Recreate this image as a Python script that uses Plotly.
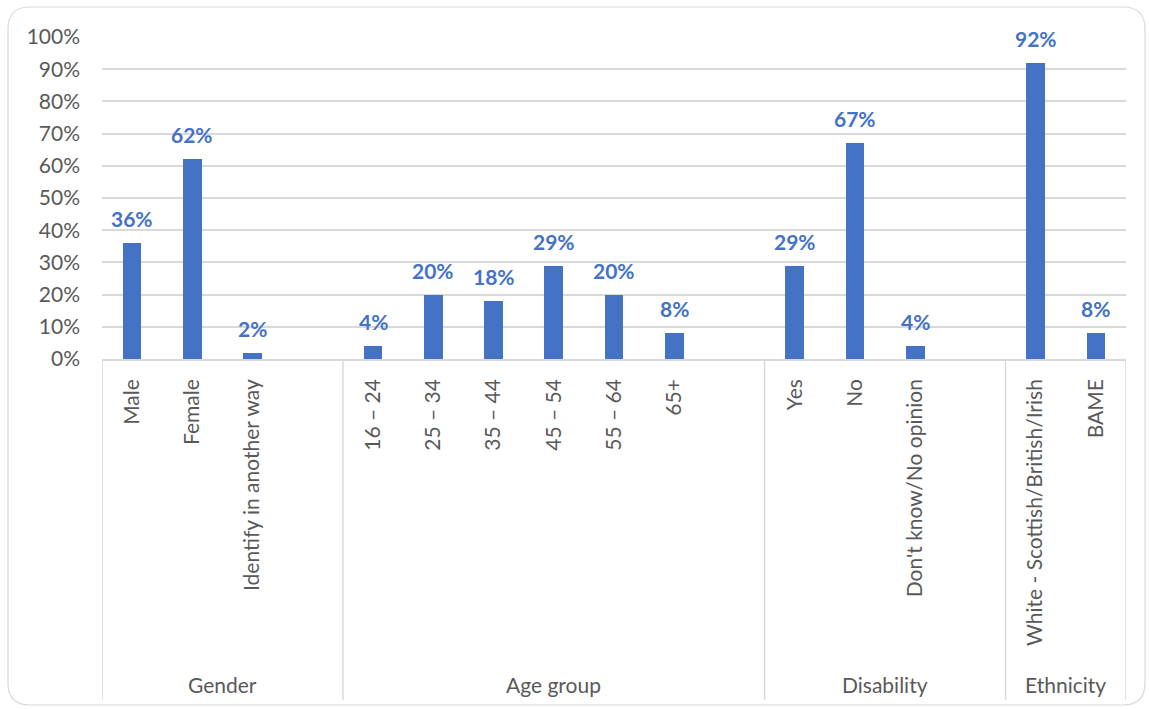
import plotly.graph_objects as go

# ---- data ----
group_names = ["Gender", "Age group", "Disability", "Ethnicity"]
gender_labels = ["Male", "Female", "Identify in another way"]
gender_values = [36, 62, 2]
age_labels = ["16 – 24", "25 – 34", "35 – 44", "45 – 54", "55 – 64", "65+"]
age_values = [4, 20, 18, 29, 20, 8]
disability_labels = ["Yes", "No", "Don't know/No opinion"]
disability_values = [29, 67, 4]
ethnicity_labels = ["White - Scottish/British/Irish", "BAME"]
ethnicity_values = [92, 8]
y_ticks = [0, 10, 20, 30, 40, 50, 60, 70, 80, 90, 100]

groups = [
    (gender_labels, gender_values),
    (age_labels, age_values),
    (disability_labels, disability_values),
    (ethnicity_labels, ethnicity_values),
]

BLUE = "#4472C4"
GREY_TXT = "#595959"
GRID = "#D9D9D9"
FONT = "Lato"

# build slot positions (one blank slot after every group but the last)
xs, ys, labels = [], [], []
bounds = []
pos = 0
for gi, (labs, vals) in enumerate(groups):
    start = pos
    for l, v in zip(labs, vals):
        xs.append(pos)
        ys.append(v)
        labels.append(l)
        pos += 1
    if gi < len(groups) - 1:
        pos += 1
    bounds.append((start - 0.5, pos - 0.5))
n_slots = pos

fig = go.Figure()
fig.add_trace(go.Bar(
    x=xs, y=ys, width=0.31, marker=dict(color=BLUE, line=dict(width=0)),
    hoverinfo="skip", showlegend=False,
))

annotations = []
for x, y in zip(xs, ys):
    annotations.append(dict(
        x=x, y=y, xref="x", yref="y", text=f"<b>{y}%</b>", showarrow=False,
        yanchor="bottom", yshift=10, font=dict(family=FONT, size=21, color=BLUE),
    ))

H = 322.0  # plot height in px
for name, (a, b) in zip(group_names, bounds):
    annotations.append(dict(
        x=(a + b) / 2, y=-(685 - 359) / H, xref="x", yref="paper", text=name,
        showarrow=False, yanchor="middle",
        font=dict(family=FONT, size=21, color=GREY_TXT),
    ))

shapes = []
sep_x = sorted(set([b[0] for b in bounds] + [bounds[-1][1]]))
for sx in sep_x:
    shapes.append(dict(type="line", xref="x", yref="paper", x0=sx, x1=sx,
                       y0=0, y1=-(700 - 359) / H, line=dict(color=GRID, width=1.5)))

# rounded chart border
W = 1024.0
def px_x(p):
    return (p - 102) / W
def px_y(p):
    return (359 - p) / H
L, R, T, B, r = 8, 1145, 7, 705, 22
path = (
    f"M {px_x(L + r)} {px_y(T)} L {px_x(R - r)} {px_y(T)} "
    f"Q {px_x(R)} {px_y(T)} {px_x(R)} {px_y(T + r)} "
    f"L {px_x(R)} {px_y(B - r)} Q {px_x(R)} {px_y(B)} {px_x(R - r)} {px_y(B)} "
    f"L {px_x(L + r)} {px_y(B)} Q {px_x(L)} {px_y(B)} {px_x(L)} {px_y(B - r)} "
    f"L {px_x(L)} {px_y(T + r)} Q {px_x(L)} {px_y(T)} {px_x(L + r)} {px_y(T)} Z"
)
shapes.append(dict(type="path", xref="paper", yref="paper", path=path,
                   line=dict(color=GRID, width=1.2), layer="below"))

fig.update_layout(
    width=1149, height=709,
    margin=dict(l=102, r=23, t=37, b=350, autoexpand=False),
    paper_bgcolor="white", plot_bgcolor="white",
    font=dict(family=FONT, color=GREY_TXT),
    bargap=0,
    annotations=annotations,
    shapes=shapes,
    xaxis=dict(
        range=[-0.5, n_slots - 0.5], tickmode="array", tickvals=xs, ticktext=labels,
        tickangle=-90, ticks="", showgrid=False, zeroline=False,
        showline=True, linecolor=GRID, linewidth=1.5,
        tickfont=dict(family=FONT, size=21, color=GREY_TXT),
        ticklabelstandoff=10, fixedrange=True,
    ),
    yaxis=dict(
        range=[0, 100], tickmode="array", tickvals=y_ticks,
        ticktext=[f"{v}%" for v in y_ticks],
        showgrid=True, gridcolor=GRID, gridwidth=1.5, zeroline=False, showline=False,
        ticks="", tickfont=dict(family=FONT, size=21, color=GREY_TXT),
        ticklabelstandoff=21, fixedrange=True,
    ),
)

fig.write_html("out.html")
